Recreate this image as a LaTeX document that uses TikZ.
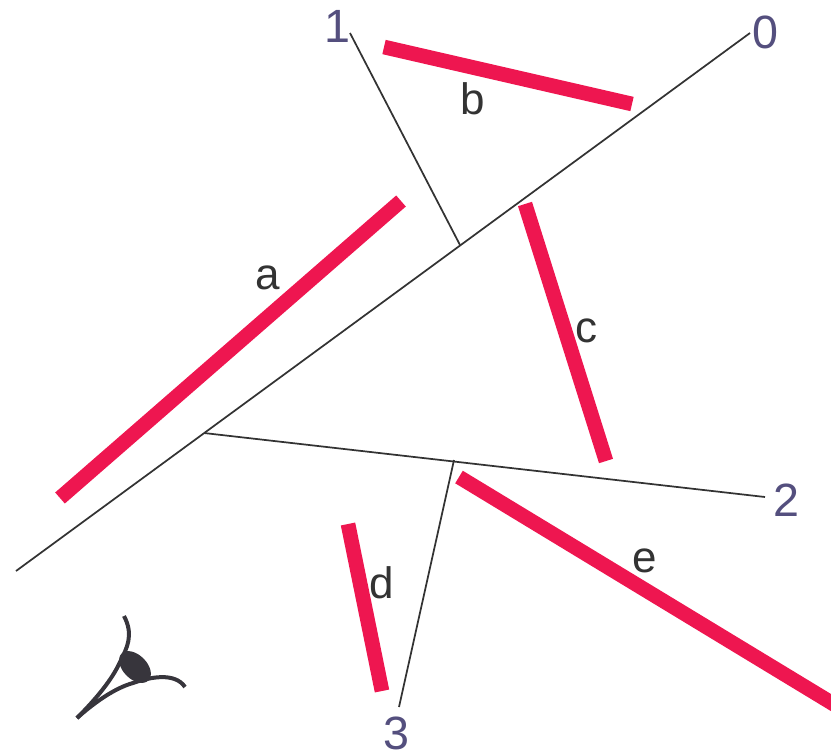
\documentclass[tikz,border=0pt]{standalone}
\usepackage{fontspec}
\setmainfont{Liberation Sans}
\definecolor{seg}{HTML}{EE1650}
\definecolor{lbl}{HTML}{333333}
\definecolor{num}{HTML}{544F7E}
\definecolor{ln}{HTML}{333333}
\definecolor{eyec}{HTML}{37353C}
\tikzset{x=0.75pt,y=-0.75pt,
 wall/.style={draw=seg,line width=11pt},
 ray/.style={draw=ln,line width=1.3pt},
 eyeline/.style={draw=eyec,line width=3pt},
 seglabel/.style={text=lbl,font=\fontsize{33}{33}\selectfont,inner sep=0pt},
 numlabel/.style={text=num,font=\fontsize{35}{35}\selectfont,inner sep=0pt}}
\begin{document}
\begin{tikzpicture}
\useasboundingbox (0,0) rectangle (831,754);
\coordinate (a1) at (60,498); \coordinate (a2) at (401,201);
\coordinate (b1) at (384,47); \coordinate (b2) at (632,104);
\coordinate (c1) at (525,204); \coordinate (c2) at (606,461);
\coordinate (d1) at (348,524); \coordinate (d2) at (382,691);
\coordinate (e1) at (459,477); \coordinate (e2) at (840,708);
\begin{scope}
\clip (0,0) rectangle (831,754);
\draw[wall] (a1)--(a2); \draw[wall] (b1)--(b2); \draw[wall] (c1)--(c2);
\draw[wall] (d1)--(d2); \draw[wall] (e1)--(e2);
\end{scope}
\coordinate (r0s) at (16,571); \coordinate (r0e) at (750,33);
\coordinate (r1s) at (350,33); \coordinate (r1e) at (460,245);
\coordinate (r2s) at (204,433); \coordinate (r2e) at (765,497);
\coordinate (r3s) at (454,460); \coordinate (r3e) at (399,707);
\draw[ray] (r0s)--(r0e); \draw[ray] (r1s)--(r1e);
\draw[ray] (r2s)--(r2e); \draw[ray] (r3s)--(r3e);
\node[numlabel] (n0) at (765,32) {0};
\node[numlabel] (n1) at (337,26) {1};
\node[numlabel] (n2) at (786,500) {2};
\node[numlabel] (n3) at (396,733) {3};
\node[seglabel] (la) at (268,278) {a};
\node[seglabel] (lb) at (473,99) {b};
\node[seglabel] (lc) at (586,331) {c};
\node[seglabel] (ld) at (382,583) {d};
\node[seglabel] (le) at (645,561) {e};
% eye
\draw[eyeline] (77,718) .. controls (95,702) and (115,688) .. (133,683) .. controls (150,677) and (175,672) .. (185,687);
\draw[eyeline] (77,718) .. controls (95,700) and (112,680) .. (120,662) .. controls (127,648) and (134,635) .. (124,616);
\fill[eyec,rotate around={-45:(135,667)}] (135,667) ellipse (19 and 12);
\end{tikzpicture}
\end{document}
